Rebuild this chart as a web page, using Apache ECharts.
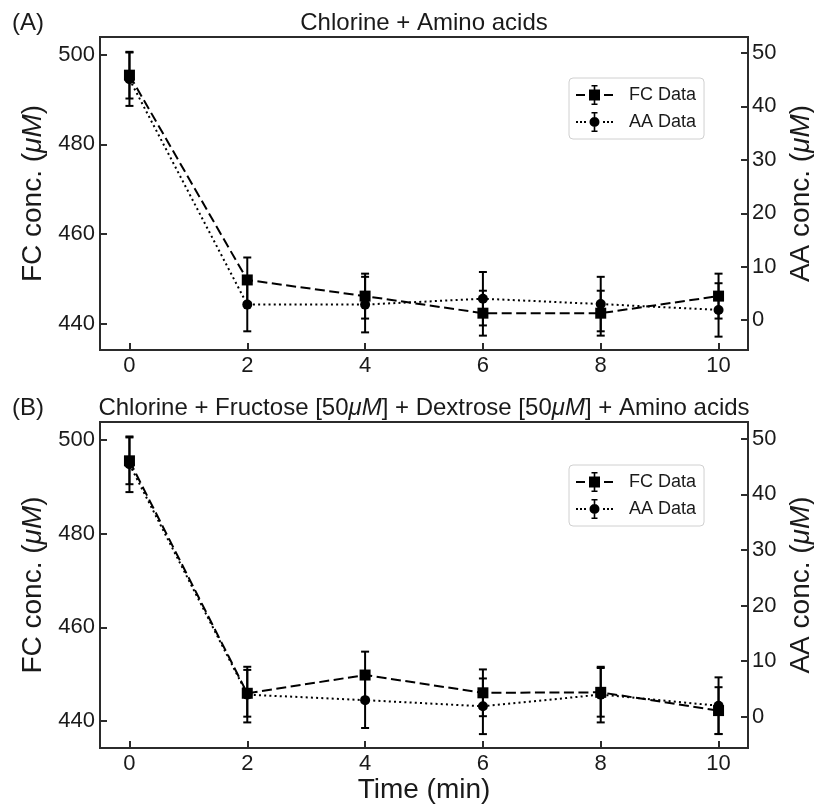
<!DOCTYPE html>
<html><head><meta charset="utf-8">
<script src="https://cdn.jsdelivr.net/npm/echarts@6/dist/echarts.min.js"></script>
<style>html,body{margin:0;padding:0;background:#fff}#c{width:814px;height:807px}</style>
</head><body><div id="c"></div>
<script>
// ---- data ----
const times = [0, 2, 4, 6, 8, 10];
const xTicks = [0, 2, 4, 6, 8, 10];
const fcTicks = [440, 460, 480, 500];
const aaTicks = [0, 10, 20, 30, 40, 50];

// Panel A: Chlorine + Amino acids
const fcA = [495.4, 449.8, 446.2, 442.4, 442.4, 446.2];
const fcAErr = [5.2, 5.0, 5.0, 5.0, 5.0, 5.0];
const aaA = [45.1, 2.9, 2.9, 4.0, 3.0, 1.9];
const aaAErr = [5.0, 5.0, 5.2, 5.0, 5.1, 5.0];

// Panel B: Chlorine + Fructose + Dextrose + Amino acids
const fcB = [495.6, 445.9, 449.8, 446.0, 446.1, 442.2];
const fcBErr = [5.0, 5.0, 5.0, 5.0, 5.2, 5.0];
const aaB = [45.4, 4.0, 3.0, 1.9, 4.0, 2.0];
const aaBErr = [5.0, 5.0, 5.0, 5.0, 5.0, 5.1];

const titleA = 'Chlorine + Amino acids';
const titleB = 'Chlorine + Fructose [50{i|μM}] + Dextrose [50{i|μM}] + Amino acids';

// ---- styling ----
const FONT = 'Liberation Sans, Arial, sans-serif';
const TXT = '#1a1a1a';
const FRAME = '#2b2b2b';
const fcIcon = 'path://M0,9H9V11H0Z M13,4.5H24V15.5H13Z M28,9H37V11H28Z M17.7,0H19.3V20H17.7Z M15.5,0H21.5V1.6H15.5Z M15.5,18.4H21.5V20H15.5Z';
const aaIcon = 'path://M0,9H2V11H0Z M4,9H6V11H4Z M8,9H10V11H8Z M27,9H29V11H27Z M31,9H33V11H31Z M35,9H37V11H35Z M13.5,10A5,5 0 0 1 23.5,10A5,5 0 0 1 13.5,10Z M17.7,0H19.3V20H17.7Z M15.5,0H21.5V1.6H15.5Z M15.5,18.4H21.5V20H15.5Z';

const italicRich = (size) => ({ i: { fontStyle: 'italic', fontSize: size, fontFamily: FONT, color: TXT } });

function pts(vals) { return times.map((t, i) => [t, vals[i]]); }
function errData(vals, errs) { return times.map((t, i) => [t, vals[i] - errs[i], vals[i] + errs[i]]); }

function errSeries(name, xi, yi, vals, errs) {
  return {
    type: 'custom', name: name + ' err', xAxisIndex: xi, yAxisIndex: yi,
    data: errData(vals, errs), silent: true, z: 3,
    renderItem: function (params, api) {
      const x = api.value(0);
      const top = api.coord([x, api.value(2)]);
      const bot = api.coord([x, api.value(1)]);
      const cw = 4;
      const st = { stroke: '#000', lineWidth: 2 };
      return {
        type: 'group', children: [
          { type: 'line', shape: { x1: top[0], y1: top[1], x2: bot[0], y2: bot[1] }, style: st },
          { type: 'line', shape: { x1: top[0] - cw, y1: top[1], x2: top[0] + cw, y2: top[1] }, style: st },
          { type: 'line', shape: { x1: bot[0] - cw, y1: bot[1], x2: bot[0] + cw, y2: bot[1] }, style: st }
        ]
      };
    }
  };
}

function lineSeries(name, xi, yi, vals, kind) {
  return {
    type: 'line', name: name, xAxisIndex: xi, yAxisIndex: yi, data: pts(vals),
    symbol: kind === 'fc' ? 'rect' : 'circle', symbolSize: kind === 'fc' ? 11 : 10,
    itemStyle: { color: '#000', borderWidth: 0 },
    lineStyle: { color: '#000', width: 2, type: kind === 'fc' ? [10, 4.5] : [2, 3.2] },
    z: 4, animation: false
  };
}

function xAxis(gi, withName) {
  return {
    type: 'value', gridIndex: gi, min: -0.5, max: 10.5,
    axisLine: { show: false, onZero: false },
    axisTick: { show: true, inside: true, length: 7, lineStyle: { color: FRAME, width: 2 }, customValues: xTicks },
    axisLabel: { customValues: xTicks, fontSize: 22, fontFamily: FONT, color: TXT, margin: 5 },
    splitLine: { show: false },
    name: withName ? 'Time (min)' : '', nameLocation: 'middle', nameGap: 26,
    nameTextStyle: { fontSize: 28, fontFamily: FONT, color: TXT }
  };
}
function yLeft(gi) {
  return {
    type: 'value', gridIndex: gi, position: 'left', min: 434.2, max: 503.9,
    axisLine: { show: false, onZero: false },
    axisTick: { show: true, inside: true, length: 7, lineStyle: { color: FRAME, width: 2 }, customValues: fcTicks },
    axisLabel: { customValues: fcTicks, fontSize: 22, fontFamily: FONT, color: TXT, margin: 5 },
    splitLine: { show: false },
    name: 'FC conc. ({i|μM})', nameLocation: 'middle', nameRotate: 90, nameGap: 51,
    nameTextStyle: { fontSize: 28, fontFamily: FONT, color: TXT, rich: italicRich(28) }
  };
}
function yRight(gi) {
  return {
    type: 'value', gridIndex: gi, position: 'right', min: -5.6, max: 53,
    axisLine: { show: false, onZero: false },
    axisTick: { show: true, inside: true, length: 7, lineStyle: { color: FRAME, width: 2 }, customValues: aaTicks },
    axisLabel: { customValues: aaTicks, fontSize: 22, fontFamily: FONT, color: TXT, margin: 4 },
    splitLine: { show: false },
    name: 'AA conc. ({i|μM})', nameLocation: 'middle', nameRotate: 90, nameGap: 34,
    nameTextStyle: { fontSize: 28, fontFamily: FONT, color: TXT, rich: italicRich(28) }
  };
}
function legend(top) {
  return {
    orient: 'vertical', left: 569, top: top,
    padding: [7, 8, 7, 7], itemGap: 7, itemWidth: 37, itemHeight: 20,
    backgroundColor: '#fff', borderColor: '#d0d0d0', borderWidth: 1, borderRadius: 4,
    itemStyle: { borderWidth: 0 },
    textStyle: { fontSize: 18, fontFamily: FONT, color: TXT, padding: [0, 0, 0, 11] },
    selectedMode: false,
    data: [{ name: 'FC Data', icon: fcIcon }, { name: 'AA Data', icon: aaIcon }]
  };
}

const option = {
  animation: false,
  backgroundColor: '#fff',
  title: [
    { text: titleA, left: 424, top: 11, textAlign: 'center', padding: 0,
      textStyle: { fontSize: 24, fontWeight: 'normal', fontFamily: FONT, color: TXT, rich: italicRich(24) } },
    { text: titleB, left: 424, top: 396, textAlign: 'center', padding: 0,
      textStyle: { fontSize: 24, fontWeight: 'normal', fontFamily: FONT, color: TXT, rich: italicRich(24) } },
    { text: '(A)', left: 12, top: 11, padding: 0,
      textStyle: { fontSize: 24, fontWeight: 'normal', fontFamily: FONT, color: TXT } },
    { text: '(B)', left: 12, top: 396, padding: 0,
      textStyle: { fontSize: 24, fontWeight: 'normal', fontFamily: FONT, color: TXT } }
  ],
  grid: [
    { left: 100, top: 37, width: 648, height: 313, show: true, borderColor: FRAME, borderWidth: 2, backgroundColor: 'transparent', containLabel: false, outerBoundsMode: 'none' },
    { left: 100, top: 422, width: 648, height: 326, show: true, borderColor: FRAME, borderWidth: 2, backgroundColor: 'transparent', containLabel: false, outerBoundsMode: 'none' }
  ],
  legend: [legend(78), legend(465)],
  xAxis: [xAxis(0, false), xAxis(1, true)],
  yAxis: [yLeft(0), yRight(0), yLeft(1), yRight(1)],
  series: [
    errSeries('FC A', 0, 0, fcA, fcAErr),
    errSeries('AA A', 0, 1, aaA, aaAErr),
    lineSeries('FC Data', 0, 0, fcA, 'fc'),
    lineSeries('AA Data', 0, 1, aaA, 'aa'),
    errSeries('FC B', 1, 2, fcB, fcBErr),
    errSeries('AA B', 1, 3, aaB, aaBErr),
    lineSeries('FC Data', 1, 2, fcB, 'fc'),
    lineSeries('AA Data', 1, 3, aaB, 'aa')
  ]
};
const chart = echarts.init(document.getElementById('c'), null, { renderer: 'canvas' });
chart.setOption(option);
</script>
</body></html>
